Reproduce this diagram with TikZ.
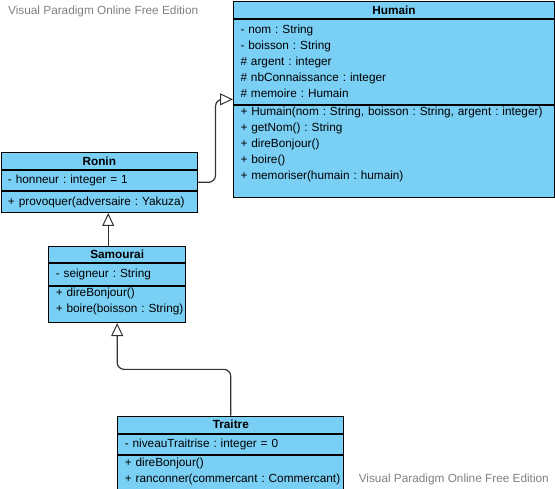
\documentclass[tikz,border=0pt]{standalone}
\usepackage{fontspec}
\setmainfont{Liberation Sans}
\frenchspacing
\usetikzlibrary{arrows.meta,calc}
\definecolor{umlblue}{RGB}{122,207,245}
\tikzset{
  part/.style={draw=black, line width=1pt, fill=umlblue, anchor=north west,
    inner xsep=0pt, inner ysep=4pt, text width=#1, align=left,
    execute at begin node={\leftskip=7pt\relax},
    font=\fontsize{11.8}{16}\selectfont},
  title/.style={draw=black, line width=1pt, fill=umlblue, anchor=north west,
    inner xsep=0pt, inner ysep=4pt, text width=#1, align=center,
    font=\bfseries\fontsize{11.8}{16}\selectfont},
  gen/.style={draw=black!80, line width=1.2pt, rounded corners=7pt,
    -{Triangle[fill=white, length=13pt, width=12pt, line width=1pt]}},
  watermark/.style={text=black!50, font=\fontsize{11.8}{14}\selectfont, inner sep=0pt}
}
\begin{document}
\begin{tikzpicture}[x=1pt,y=-1pt]
\useasboundingbox (0,0) rectangle (555,489);

\node[watermark, anchor=west] (wm1) at (8,11) {Visual Paradigm Online Free Edition};
\node[watermark, anchor=east] (wm2) at (549,479) {Visual Paradigm Online Free Edition};

\node[title=321pt, minimum height=16.5pt] (humain) at (233,1) {Humain};
\node[part=321pt, minimum height=85pt] (humainA) at (humain.south west)
  {- nom : String\\- boisson : String\\\# argent : integer\\\# nbConnaissance : integer\\\# memoire : Humain};
\node[part=321pt, minimum height=92pt, inner ysep=1pt] (humainM) at (humainA.south west)
  {+ Humain(nom : String, boisson : String, argent : integer)\\+ getNom() : String\\+ direBonjour()\\+ boire()\\+ memoriser(humain : humain)\\[-0.6pt]\mbox{}};

\node[title=196.5pt, minimum height=17.6pt] (ronin) at (0.5,151.7) {Ronin};
\node[part=196.5pt, minimum height=20pt] (roninA) at (ronin.south west) {- honneur : integer = 1};
\node[part=196.5pt, minimum height=20.7pt] (roninM) at (roninA.south west) {+ provoquer(adversaire : Yakuza)};

\node[title=136.7pt, minimum height=16.6pt] (samourai) at (48.3,245.7) {Samourai};
\node[part=136.7pt, minimum height=21.7pt] (samouraiA) at (samourai.south west) {- seigneur : String};
\node[part=136.7pt, minimum height=36pt, inner ysep=1pt] (samouraiM) at (samouraiA.south west)
  {+ direBonjour()\\+ boire(boisson : String)\\[-8pt]\mbox{}};

\node[title=226pt, minimum height=17pt] (traitre) at (117.3,415.7) {Traitre};
\node[part=226pt, minimum height=20.6pt] (traitreA) at (traitre.south west) {- niveauTraitrise : integer = 0};
\node[part=226pt, minimum height=34.4pt, inner ysep=1pt] (traitreM) at (traitreA.south west)
  {+ direBonjour()\\+ ranconner(commercant : Commercant)\\[-10pt]\mbox{}};

\coordinate (roninOut) at ($(ronin.north east)!.5!(roninM.south east)$);
\coordinate (humainIn) at ($(humain.north west)!.5!(humainM.south west)$);
\coordinate (sr) at ($(samourai.north)!.5!(roninM.south)$);
\coordinate (ts) at ($(traitre.north)!.5!(samouraiM.south)$);

\draw[gen] (roninOut) -| ($(roninOut)!.5!(humainIn)$) |- (humainIn);
\draw[gen] (samourai.north -| sr) -- (roninM.south -| sr);
\draw[gen] (traitre.north) |- (ts) -| (samouraiM.south);
\end{tikzpicture}
\end{document}
